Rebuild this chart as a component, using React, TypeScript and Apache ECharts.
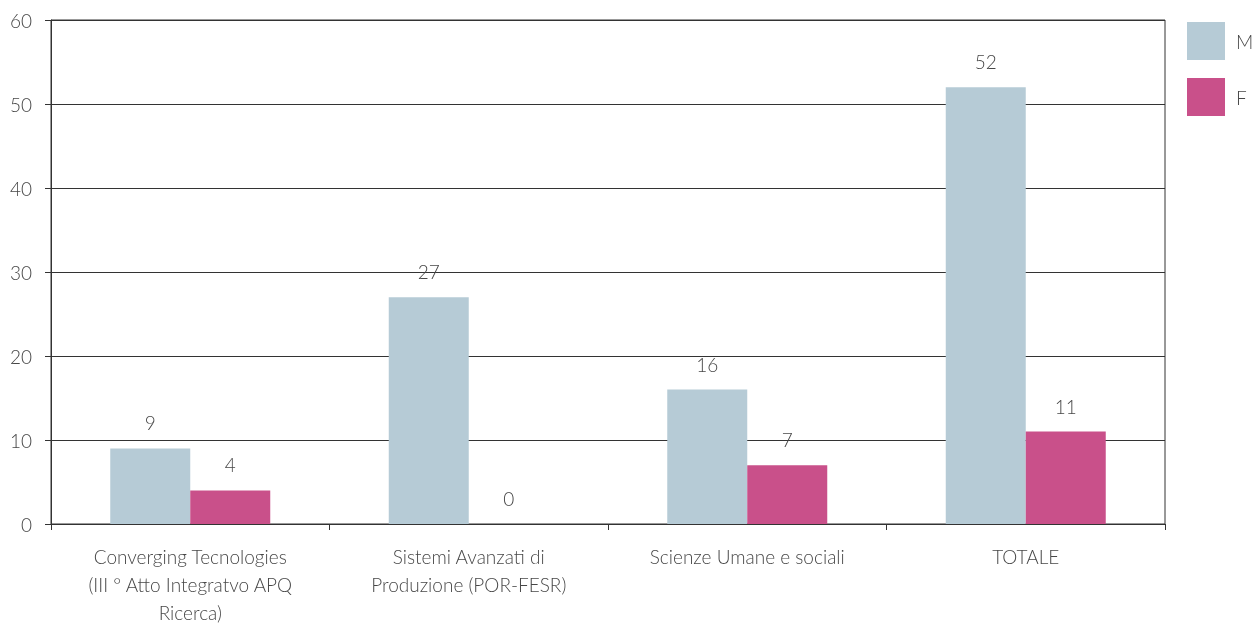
import React, { useEffect, useRef } from "react";
import * as echarts from "echarts";

const categories = [
  "Converging Tecnologies\n(III ° Atto Integratvo APQ\nRicerca)",
  "Sistemi Avanzati di\nProduzione (POR-FESR)",
  "Scienze Umane e sociali",
  "TOTALE",
];
const maleValues = [9, 27, 16, 52];
const femaleValues = [4, 0, 7, 11];
const seriesNames = ["M", "F"];

const FONT = "Lato";
const TEXT = "#474747";
const LINE = "#333333";
const FS = 19;

export default function App() {
  const ref = useRef<HTMLDivElement>(null);
  useEffect(() => {
    if (!ref.current) return;
    const chart = echarts.init(ref.current, null, { renderer: "svg" });
    const label = {
      show: true,
      position: "top",
      distance: 16,
      color: TEXT,
      fontFamily: FONT,
      fontWeight: 300,
      fontSize: FS,
    };
    chart.setOption({
      animation: false,
      textStyle: { fontFamily: FONT, fontWeight: 300 },
      grid: {
        left: 51,
        right: 91,
        top: 20,
        bottom: 102,
        outerBoundsMode: "none",
        containLabel: false,
        show: true,
        borderColor: LINE,
        borderWidth: 1,
      },
      legend: {
        orient: "vertical",
        left: 1187,
        top: 22,
        padding: 0,
        itemWidth: 38,
        itemHeight: 38,
        itemGap: 18,
        icon: "rect",
        textStyle: { color: TEXT, fontSize: FS, fontFamily: FONT, fontWeight: 300, padding: [0, 0, 0, 6] },
        data: seriesNames,
      },
      xAxis: {
        type: "category",
        data: categories,
        axisLine: { lineStyle: { color: LINE } },
        axisTick: { show: true, length: 6, lineStyle: { color: LINE } },
        axisLabel: {
          color: TEXT,
          fontSize: FS,
          fontFamily: FONT,
          fontWeight: 300,
          margin: 18,
          lineHeight: 28,
          interval: 0,
        },
      },
      yAxis: {
        type: "value",
        min: 0,
        max: 60,
        interval: 10,
        axisLine: { show: true, lineStyle: { color: LINE } },
        axisTick: { show: true, length: 6, lineStyle: { color: LINE } },
        splitLine: { lineStyle: { color: LINE, width: 1 } },
        axisLabel: {
          color: TEXT,
          fontSize: FS,
          fontFamily: FONT,
          fontWeight: 300,
          margin: 19,
        },
      },
      series: [
        {
          name: seriesNames[0],
          type: "bar",
          data: maleValues,
          barWidth: 80,
          barGap: "0%",
          itemStyle: { color: "#b6cbd6" },
          label,
        },
        {
          name: seriesNames[1],
          type: "bar",
          data: femaleValues,
          barWidth: 80,
          barGap: "0%",
          itemStyle: { color: "#c9508a" },
          label,
        },
      ],
    });
    return () => chart.dispose();
  }, []);
  return <div ref={ref} style={{ position: "fixed", left: 0, top: 0, width: 1256, height: 626 }} />;
}
